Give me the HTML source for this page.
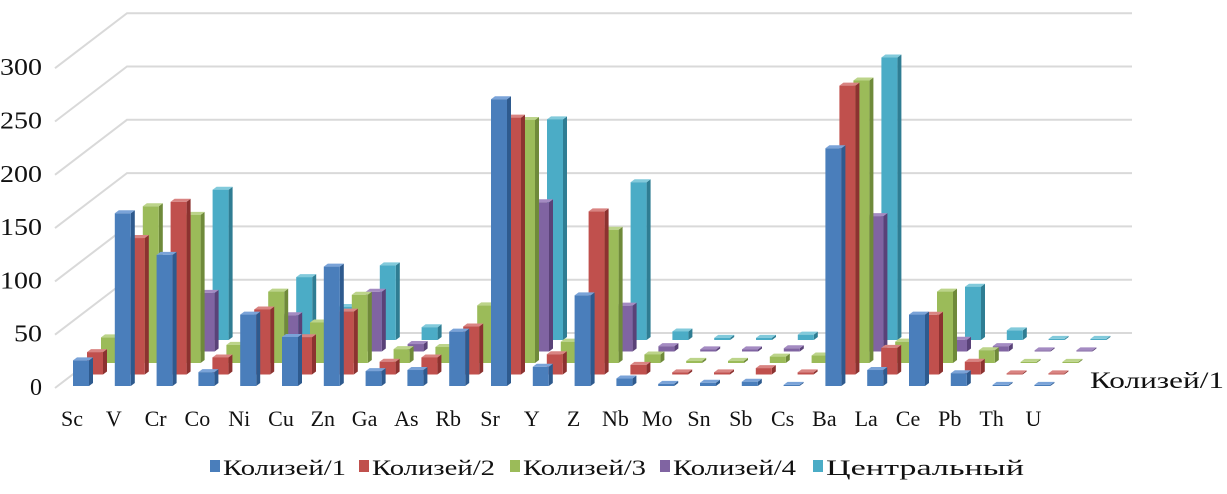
<!DOCTYPE html>
<html><head><meta charset="utf-8"><style>
html,body{margin:0;padding:0;background:#fff;}
svg{display:block;font-family:"Liberation Serif",serif;}
</style></head><body>
<svg id="chart" width="1227" height="494" viewBox="0 0 1227 494" xmlns="http://www.w3.org/2000/svg">
<g id="grid"></g>
<g id="ylabels"></g>
<g id="bars"></g>
<g id="xlabels"></g>
<text x="1090" y="388" font-size="23" textLength="134" lengthAdjust="spacingAndGlyphs" fill="#111">Колизей/1</text>
<g id="legend"></g>
</svg>
<script>
const categories = ["Sc","V","Cr","Co","Ni","Cu","Zn","Ga","As","Rb","Sr","Y","Z","Nb","Mo","Sn","Sb","Cs","Ba","La","Ce","Pb","Th","U"];
const seriesNames = ["Колизей/1","Колизей/2","Колизей/3","Колизей/4","Центральный"];
const s1 = [24,162,123,13,67,46,112,14,15,51,269,18,85,7,2,3,4,1,223,15,67,12,1,1];
const s2 = [21,128,162,16,61,35,59,12,16,45,241,19,153,9,2,2,6,2,271,25,56,12,1,1];
const s3 = [24,147,139,17,67,38,64,13,15,54,228,20,125,8,2,2,6,7,265,20,67,12,1,1];
const s4 = [3,10,55,8,34,20,56,7,4,6,140,5,43,5,2,2,3,6,127,5,11,5,1,1];
const s5 = [3,10,141,12,59,31,70,12,5,6,207,5,148,8,2,2,5,5,265,5,50,9,1,1];
const yTicks = [0,50,100,150,200,250,300];
const series = [s1,s2,s3,s4,s5];
const colors = [["#4a7ebb","#2e5a8e","#7aa3d8"],["#c0504d","#8c3230","#d98482"],["#9bbb59","#6f8a3a","#bcd48a"],["#8064a2","#5a4278","#a48bc2"],["#4bacc6","#2f7d93","#82cadb"]];
const NS="http://www.w3.org/2000/svg";
const PX=1.066, X0=73, STEP=41.8, ROWDX=14, ROWDY=11.5, BW=16, DD=4, DH=3;
function xPos(i,row){return X0+STEP*i+ROWDX*row;}
function base(row){return 386-ROWDY*row;}
function yVal(v,row){return base(row)-v*PX;}
function mk(tag,attrs,parent){const e=document.createElementNS(NS,tag);for(const k in attrs)e.setAttribute(k,attrs[k]);parent.appendChild(e);return e;}
const grid=document.getElementById('grid');
yTicks.forEach(v=>{
  const yf=388-v*PX, yb=333-v*PX;
  const l=mk('polyline',{points:`55,${yf} 127,${yb} 1132,${yb}`,fill:'none',stroke:'#d9d9d9','stroke-width':2},grid);
  
  
  const s=String(v);
  const attrs={x:42,y:yf+7,'text-anchor':'end','font-size':24,fill:'#111'};
  if(s.length===3){attrs.textLength=42;attrs.lengthAdjust='spacingAndGlyphs';}
  else if(s.length===2){attrs.textLength=28;attrs.lengthAdjust='spacingAndGlyphs';}
  const t=mk('text',attrs,document.getElementById('ylabels'));
  t.textContent=s;
  
  
});
const bars=document.getElementById('bars');
for(let r=series.length-1;r>=0;r--){
  categories.forEach((c,i)=>{
    const v=series[r][i];
    const x=xPos(i,r), yb=base(r), yt=yVal(v,r);
    const g=mk('g',{},bars);
    
    
    const col=colors[r];
    mk('polygon',{points:`${x+BW},${yt} ${x+BW+DD},${yt-DH} ${x+BW+DD},${yb-DH} ${x+BW},${yb}`,fill:col[1]},g);
    mk('polygon',{points:`${x},${yt} ${x+DD},${yt-DH} ${x+BW+DD},${yt-DH} ${x+BW},${yt}`,fill:col[2]},g);
    mk('rect',{x:x,y:yt,width:BW,height:Math.max(yb-yt,0.5),fill:col[0]},g);
  });
}
const xl=document.getElementById('xlabels');
categories.forEach((c,i)=>{
  const t=mk('text',{x:xPos(i,0)-1,y:426,'text-anchor':'middle','font-size':22,fill:'#111'},xl);
  t.textContent=c;
  
  
});
const lg=document.getElementById('legend');
const lx=[210,359,510,660,813];
const lw=[123,123,123,123,198];
seriesNames.forEach((n,k)=>{
  const g=mk('g',{},lg);
  
  
  mk('rect',{x:lx[k],y:460,width:10,height:12,fill:colors[k][0]},g);
  const t=mk('text',{x:lx[k]+13,y:475,'font-size':22,fill:'#111',textLength:lw[k],lengthAdjust:'spacingAndGlyphs'},g);
  t.textContent=n;
});
</script>
</body></html>
